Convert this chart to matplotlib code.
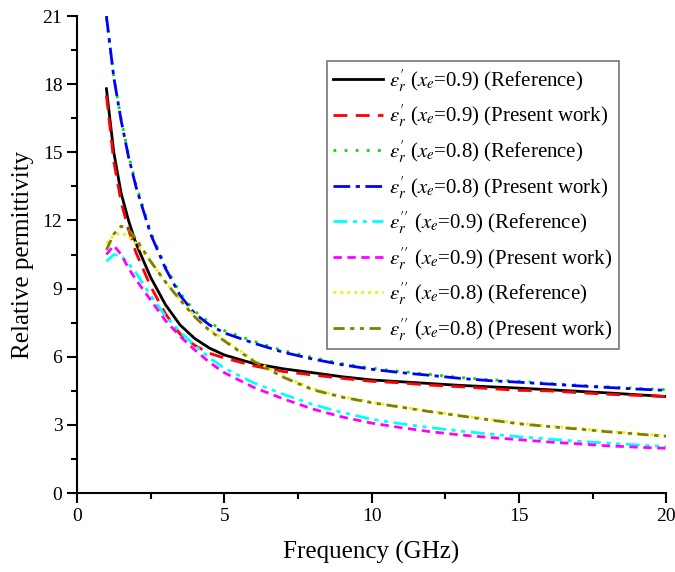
import matplotlib
matplotlib.use("Agg")
import matplotlib.pyplot as plt
from matplotlib.ticker import MultipleLocator

plt.rcParams["font.family"] = ["Liberation Serif", "DejaVu Serif"]
plt.rcParams["mathtext.fontset"] = "stix"

freq = [1, 1.25, 1.5, 1.75, 2, 2.5, 3, 3.5, 4, 4.5, 5, 6, 7, 8, 9, 10,
        11, 12, 13, 14, 15, 16, 17, 18, 19, 20]

eps1_09_ref = [17.8, 15.0, 13.2, 12.0, 11.0, 9.5, 8.3, 7.4, 6.8, 6.38, 6.08, 5.7, 5.47,
               5.3, 5.12, 4.98, 4.9, 4.82, 4.74, 4.68, 4.62, 4.55, 4.48, 4.41, 4.33, 4.25]
eps1_09_pw = [17.5, 14.6, 12.8, 11.6, 10.6, 9.1, 7.9, 7.0, 6.5, 6.15, 5.95, 5.6, 5.35,
              5.2, 5.05, 4.92, 4.85, 4.75, 4.68, 4.6, 4.52, 4.5, 4.42, 4.35, 4.3, 4.25]
eps1_08_ref = [20.9, 18.3, 16.45, 14.9, 13.6, 11.5, 10.0, 8.8, 8.0, 7.5, 7.15, 6.68, 6.27,
               5.97, 5.7, 5.5, 5.35, 5.22, 5.09, 4.99, 4.92, 4.83, 4.75, 4.68, 4.61, 4.55]
eps1_08_pw = [21.0, 18.3, 16.4, 14.8, 13.5, 11.4, 9.9, 8.7, 7.9, 7.4, 7.05, 6.6, 6.2,
              5.9, 5.65, 5.45, 5.3, 5.18, 5.05, 4.95, 4.88, 4.8, 4.72, 4.65, 4.58, 4.52]
eps2_09_ref = [10.2, 10.5, 10.45, 10.1, 9.7, 8.7, 7.8, 7.1, 6.5, 5.95, 5.5, 4.85, 4.35,
               3.9, 3.55, 3.25, 3.05, 2.88, 2.73, 2.6, 2.48, 2.38, 2.28, 2.2, 2.12, 2.05]
eps2_09_pw = [10.5, 10.9, 10.5, 9.9, 9.4, 8.5, 7.6, 6.9, 6.3, 5.75, 5.3, 4.65, 4.15,
              3.7, 3.35, 3.08, 2.88, 2.7, 2.56, 2.45, 2.35, 2.25, 2.17, 2.08, 2.02, 1.97]
eps2_08_ref = [11.0, 11.35, 11.45, 11.3, 11.0, 10.2, 9.3, 8.5, 7.8, 7.2, 6.75, 5.85, 5.15,
               4.6, 4.25, 4.0, 3.8, 3.6, 3.42, 3.25, 3.08, 2.95, 2.85, 2.72, 2.62, 2.52]
eps2_08_pw = [10.7, 11.4, 11.75, 11.6, 11.2, 10.2, 9.3, 8.5, 7.75, 7.15, 6.7, 5.8, 5.1,
              4.55, 4.22, 3.98, 3.78, 3.58, 3.4, 3.22, 3.05, 2.93, 2.82, 2.7, 2.6, 2.5]

series = [
    (eps1_09_ref, r"$\varepsilon^{\prime}_{r}$ ($x_e$=0.9) (Reference)", "black", "-"),
    (eps1_09_pw, r"$\varepsilon^{\prime}_{r}$ ($x_e$=0.9) (Present work)", "red", (0, (5, 3))),
    (eps1_08_ref, r"$\varepsilon^{\prime}_{r}$ ($x_e$=0.8) (Reference)", "#00e000", (0, (1, 3))),
    (eps1_08_pw, r"$\varepsilon^{\prime}_{r}$ ($x_e$=0.8) (Present work)", "blue", (0, (6, 2, 1.5, 2))),
    (eps2_09_ref, r"$\varepsilon^{\prime\prime}_{r}$ ($x_e$=0.9) (Reference)", "cyan", (0, (5, 2, 1.5, 2, 1.5, 2))),
    (eps2_09_pw, r"$\varepsilon^{\prime\prime}_{r}$ ($x_e$=0.9) (Present work)", "magenta", (0, (3, 2))),
    (eps2_08_ref, r"$\varepsilon^{\prime\prime}_{r}$ ($x_e$=0.8) (Reference)", "#f0f000", (0, (1, 1.5))),
    (eps2_08_pw, r"$\varepsilon^{\prime\prime}_{r}$ ($x_e$=0.8) (Present work)", "#808000", (0, (4, 2, 1.5, 2, 1.5, 2))),
]

fig = plt.figure(figsize=(6.75, 5.72), dpi=100)
ax = fig.add_axes([0.114, 0.138, 0.873, 0.834])

for vals, lab, col, ls in series:
    ax.plot(freq, vals, color=col, linestyle=ls, linewidth=2, label=lab)

ax.set_xlim(0, 20)
ax.set_ylim(0, 21)
ax.xaxis.set_major_locator(MultipleLocator(5))
ax.xaxis.set_minor_locator(MultipleLocator(2.5))
ax.yaxis.set_major_locator(MultipleLocator(3))
ax.yaxis.set_minor_locator(MultipleLocator(1.5))
ax.spines["top"].set_visible(False)
ax.spines["right"].set_visible(False)
for s in ("left", "bottom"):
    ax.spines[s].set_linewidth(1.5)
ax.tick_params(which="major", direction="out", length=7, width=1.5, labelsize=14)
ax.tick_params(which="minor", direction="out", length=4, width=1.5)

ax.set_xlabel("Frequency (GHz)", fontsize=18, labelpad=12)
ax.set_ylabel("Relative permittivity", fontsize=18, labelpad=6)

leg = ax.legend(loc="upper left", bbox_to_anchor=(0.424, 0.906), fontsize=15,
                frameon=True, fancybox=False, edgecolor="#777777", framealpha=1,
                handlelength=2.4, handletextpad=0.3, borderpad=0.3,
                labelspacing=0.42, borderaxespad=0)
leg.get_frame().set_linewidth(1.2)

fig.savefig("out.png", dpi=100)
